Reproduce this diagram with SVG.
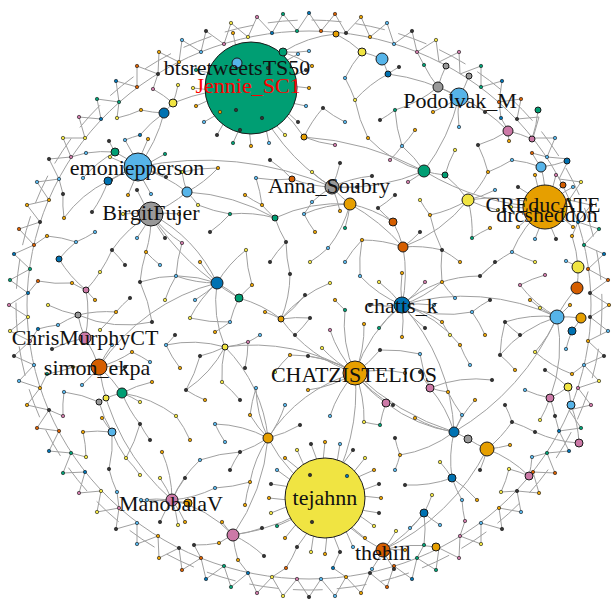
<svg xmlns="http://www.w3.org/2000/svg" width="616" height="601" viewBox="0 0 616 601">
<style>
.e{fill:none;stroke:#a0a0a0;stroke-width:1}
.n{stroke:#1a1a1a;stroke-width:.6}
.N{stroke:#1a1a1a;stroke-width:1}
.o{fill:#E69F00}.k{fill:#56B4E9}.g{fill:#009E73}.y{fill:#F0E442}.b{fill:#0072B2}.v{fill:#D55E00}.p{fill:#CC79A7}.a{fill:#999999}.d{fill:#333333}
.t{font-family:"Liberation Serif","Times New Roman",serif;font-size:22px;fill:#111;text-anchor:middle}
</style>
<rect width="616" height="601" fill="#ffffff"/>
<g id="connectors">
<path class="e" d="M609 305L590 317L608 331L588 341L604 356L584 365L599 381L578 388L591 405L569 410L581 428L559 431L569 451L547 453L555 473L533 472L539 493L517 491L521 512L499 508L502 529L481 523L481 544L460 536L459 558L439 548L436 570L417 558L412 579L394 566L387 587L370 573L361 593L346 577L335 596L321 579L309 597L297 579L283 596L272 577L257 593L248 573L231 587L224 566L206 579L201 558L182 570L179 548L159 558L158 536L137 544L137 523L116 529L119 508L97 512L101 491L79 493L85 472L63 473L71 453L49 451L59 431L37 428L49 410L27 405L40 388L19 381L34 365L14 356L30 341L10 331L28 317L9 305L28 293L10 280L30 269L14 254L34 245L19 229L40 222L27 205L49 200L37 182L59 179L49 159L71 157L63 138L85 138L79 117L101 119L97 99L119 102L116 81L137 87L137 66L158 74L159 52L179 62L182 40L201 52L206 31L224 44L231 23L248 37L257 17L272 33L283 14L297 31L309 13L321 31L335 14L346 33L361 17L370 37L387 23L394 44L412 31L417 52L436 40L439 62L459 52L460 74L481 66L481 87L502 81L499 102L521 99L517 119L539 117L533 138L555 138L547 157L569 159L559 179L581 182L569 200L591 205L578 222L599 229L584 245L604 254L588 269L608 280L590 293Z"/>
<ellipse class="e" cx="309" cy="305" rx="282" ry="274"/>
<ellipse class="e" cx="309" cy="305" rx="293" ry="285" stroke-dasharray="30 14"/>
<path class="e" d="M251 88A200 200 0 0 1 309 88M251 88A200 200 0 0 0 306 106M251 88A200 200 0 0 1 298 122M251 88A200 200 0 0 0 285 135M251 88A200 200 0 0 1 269 143M251 88A200 200 0 0 0 251 146M251 88A200 200 0 0 1 233 143M251 88A200 200 0 0 0 217 135M251 88A200 200 0 0 1 204 122M251 88A200 200 0 0 0 196 106M251 88A200 200 0 0 1 193 88M251 88A200 200 0 0 0 196 70M251 88A200 200 0 0 1 233 33M251 88A200 200 0 0 1 298 54M251 88A200 200 0 0 0 306 70"/>
<path class="e" d="M325 498A200 200 0 0 1 381 498M325 498A200 200 0 0 0 379 513M325 498A200 200 0 0 1 374 526M325 498A200 200 0 0 0 365 538M325 498A200 200 0 0 1 353 547M325 498A200 200 0 0 0 340 552M325 498A200 200 0 0 1 325 554M325 498A200 200 0 0 0 311 552M325 498A200 200 0 0 1 297 547M325 498A200 200 0 0 0 285 538M325 498A200 200 0 0 1 277 526M325 498A200 200 0 0 0 271 513M325 498A200 200 0 0 1 269 498M325 498A200 200 0 0 0 271 484M325 498A200 200 0 0 1 277 470M325 498A200 200 0 0 0 285 458M325 498A200 200 0 0 1 297 450M325 498A200 200 0 0 0 311 444M325 498A200 200 0 0 1 325 442M325 498A200 200 0 0 0 340 444M325 498A200 200 0 0 1 353 450M325 498A200 200 0 0 0 365 458M325 498A200 200 0 0 1 374 470M325 498A200 200 0 0 0 379 484"/>
<path class="e" d="M283 52A120 120 0 0 1 312 66M283 52A120 120 0 0 0 309 51M283 52A120 120 0 0 1 336 34M362 52A120 120 0 0 0 345 78M336 34A120 120 0 0 1 362 52M362 52A120 120 0 0 1 382 59M304 137A120 120 0 0 1 323 108M304 137A120 120 0 0 0 335 145M304 137A150 150 0 0 0 251 88M388 74A120 120 0 0 0 355 100M388 74A120 120 0 0 1 399 67M382 59A120 120 0 0 1 388 74M388 74A200 200 0 0 1 459 97M438 87A120 120 0 0 1 395 110M446 66A120 120 0 0 0 438 87M438 87A120 120 0 0 1 459 97"/>
<path class="e" d="M164 113A120 120 0 0 0 140 135M164 113A120 120 0 0 1 141 110M164 113A150 150 0 0 1 138 167M164 113A120 120 0 0 1 173 103M173 103A120 120 0 0 0 178 85M173 103A200 200 0 0 1 251 88"/>
<path class="e" d="M424 171A120 120 0 0 1 368 138M424 171A120 120 0 0 0 402 146M424 171A120 120 0 0 1 408 182M424 171A120 120 0 0 0 445 175M424 171A200 200 0 0 1 332 187M424 171A200 200 0 0 0 459 97M424 171A250 250 0 0 0 545 207M508 131A120 120 0 0 1 478 145M508 131A120 120 0 0 0 509 141M508 131A120 120 0 0 1 532 139M508 131A150 150 0 0 0 459 97M532 139A120 120 0 0 0 538 110M469 76A120 120 0 0 1 459 97M459 97A120 120 0 0 1 485 112M459 97A120 120 0 0 0 459 127M459 97A120 120 0 0 1 433 112"/>
<path class="e" d="M187 192A120 120 0 0 1 182 172M187 192A120 120 0 0 0 218 168M187 192A120 120 0 0 1 198 205M187 192A150 150 0 0 0 138 167M187 192A150 150 0 0 1 151 214"/>
<path class="e" d="M292 179A120 120 0 0 1 256 178M292 179A120 120 0 0 0 332 187M332 187A120 120 0 0 1 372 176M332 187A120 120 0 0 0 357 187M332 187A120 120 0 0 1 340 211M332 187A120 120 0 0 0 312 202M332 187A120 120 0 0 1 312 172M332 187A120 120 0 0 0 340 163M350 204A120 120 0 0 1 332 187M138 167A320 320 0 0 1 332 187M251 88A200 200 0 0 0 332 187"/>
<path class="e" d="M468 200A120 120 0 0 0 488 172M468 200A120 120 0 0 1 430 215M468 200A120 120 0 0 0 498 210M468 200A120 120 0 0 1 472 238M445 175A120 120 0 0 1 468 200M468 200A150 150 0 0 1 545 207M403 247A150 150 0 0 0 468 200M541 167A120 120 0 0 0 512 160M567 161A120 120 0 0 1 541 167M541 167A120 120 0 0 1 545 207M563 185A120 120 0 0 0 545 207"/>
<path class="e" d="M108 181A120 120 0 0 1 92 212M108 181A120 120 0 0 0 64 218M108 181A120 120 0 0 1 138 167M275 218A120 120 0 0 0 230 214M275 218A120 120 0 0 1 262 205M275 218A120 120 0 0 0 286 242M275 218A150 150 0 0 1 350 204M350 204A120 120 0 0 0 304 214M350 204A120 120 0 0 1 328 248M393 222A120 120 0 0 0 350 204M393 222A120 120 0 0 1 378 208M393 222A120 120 0 0 1 403 247"/>
<path class="e" d="M545 207A120 120 0 0 1 573 227M545 207A120 120 0 0 0 556 239M545 207A120 120 0 0 1 535 239M545 207A120 120 0 0 0 518 227M545 207A120 120 0 0 1 511 207M545 207A120 120 0 0 0 518 187M545 207A120 120 0 0 1 535 175M545 207A120 120 0 0 0 556 175M545 207A120 120 0 0 1 573 187M545 207A120 120 0 0 0 512 252"/>
<path class="e" d="M59 259A120 120 0 0 1 76 242M59 259A120 120 0 0 0 86 290M151 214A120 120 0 0 1 179 214M151 214A120 120 0 0 0 165 238M151 214A120 120 0 0 1 137 238M151 214A120 120 0 0 0 123 214M151 214A120 120 0 0 1 137 190M151 214A120 120 0 0 0 112 250M151 214A120 120 0 0 1 146 252M151 214A120 120 0 0 0 182 243M217 283A150 150 0 0 0 151 214"/>
<path class="e" d="M138 167A120 120 0 0 1 166 177M138 167A120 120 0 0 0 151 194M138 167A120 120 0 0 1 128 195M138 167A120 120 0 0 0 111 180M138 167A120 120 0 0 1 110 157M138 167A120 120 0 0 0 125 140M138 167A120 120 0 0 1 148 139M138 167A120 120 0 0 0 165 154M115 152A120 120 0 0 1 138 167M115 152A120 120 0 0 0 83 178M115 152A120 120 0 0 1 109 141"/>
<path class="e" d="M217 283A120 120 0 0 1 246 250M217 283A120 120 0 0 0 140 282M217 283A120 120 0 0 1 176 276M217 283A120 120 0 0 0 190 318M217 283A120 120 0 0 1 239 298M217 283A120 120 0 0 0 225 347M217 283A200 200 0 0 0 99 367M403 247A120 120 0 0 0 362 240M403 247A120 120 0 0 1 442 250M403 247A150 150 0 0 1 402 305"/>
<path class="e" d="M86 290A120 120 0 0 1 72 283M86 290A120 120 0 0 0 100 272M86 290A120 120 0 0 1 85 338M239 298A120 120 0 0 1 252 285M239 298A120 120 0 0 0 230 322M239 298A120 120 0 0 1 281 319M281 319A120 120 0 0 0 290 274M281 319A120 120 0 0 1 330 283M281 319A120 120 0 0 0 265 312M281 319A120 120 0 0 1 310 318M281 319A150 150 0 0 0 355 373"/>
<path class="e" d="M402 305A120 120 0 0 1 434 305M402 305A120 120 0 0 0 425 328M402 305A120 120 0 0 1 402 337M402 305A120 120 0 0 0 379 328M402 305A120 120 0 0 1 370 305M402 305A120 120 0 0 0 379 282M402 305A120 120 0 0 1 402 273M402 305A120 120 0 0 0 425 282M402 305A120 120 0 0 1 360 276M402 305A120 120 0 0 0 442 282M402 305A120 120 0 0 1 480 276M402 305A120 120 0 0 1 442 322M402 305A120 120 0 0 0 472 312M402 305A120 120 0 0 1 460 345M402 305A150 150 0 0 0 355 373M557 317A220 220 0 0 0 402 305M454 432A200 200 0 0 0 402 305"/>
<path class="e" d="M557 317A120 120 0 0 1 520 285M557 317A120 120 0 0 0 505 322M557 317A120 120 0 0 1 540 308M557 317A120 120 0 0 0 500 355M557 317A120 120 0 0 1 535 352M557 317A120 120 0 0 0 570 305M577 288A120 120 0 0 0 557 317M557 317A120 120 0 0 1 581 318M557 317A150 150 0 0 1 550 398M578 267A120 120 0 0 1 577 288M566 261A120 120 0 0 1 578 267M581 318A120 120 0 0 1 572 331M572 331A120 120 0 0 0 566 349"/>
<path class="e" d="M78 315A120 120 0 0 0 58 325M78 315A120 120 0 0 1 116 312M78 315A120 120 0 0 0 152 322M78 315A120 120 0 0 1 48 305M78 315A120 120 0 0 0 85 338M85 338A120 120 0 0 0 52 349M85 338A120 120 0 0 1 99 367"/>
<path class="e" d="M355 373A120 120 0 0 1 405 373M355 373A120 120 0 0 0 393 405M355 373A120 120 0 0 1 364 422M355 373A120 120 0 0 0 330 416M355 373A120 120 0 0 1 308 390M355 373A120 120 0 0 0 308 356M355 373A120 120 0 0 1 330 330M355 373A120 120 0 0 0 364 324M355 373A120 120 0 0 1 345 310M355 373A120 120 0 0 0 290 355M355 373A120 120 0 0 1 322 348M355 373A120 120 0 0 0 380 350M386 403A120 120 0 0 1 355 373M268 438A150 150 0 0 1 355 373M225 347A200 200 0 0 1 355 373M355 373A200 200 0 0 1 325 498"/>
<path class="e" d="M99 367A120 120 0 0 1 125 367M99 367A120 120 0 0 0 73 367M99 367A120 120 0 0 1 112 345M99 367A120 120 0 0 0 132 352M99 367A120 120 0 0 1 82 385M122 393A120 120 0 0 0 99 367M99 367A220 220 0 0 0 172 500"/>
<path class="e" d="M225 347A120 120 0 0 0 166 345M225 347A120 120 0 0 1 200 356M225 347A120 120 0 0 0 248 342M225 347A120 120 0 0 1 186 390M225 347A120 120 0 0 0 222 382M268 438A150 150 0 0 0 225 347"/>
<path class="e" d="M430 388A120 120 0 0 1 420 354M430 388A120 120 0 0 0 448 392M430 388A120 120 0 0 1 492 380M430 388A120 120 0 0 1 454 432M550 398A120 120 0 0 1 525 390M550 398A120 120 0 0 0 568 387M568 387A120 120 0 0 1 571 405M579 443A120 120 0 0 0 571 405M535 432A120 120 0 0 0 579 443"/>
<path class="e" d="M268 438A120 120 0 0 1 256 388M268 438A120 120 0 0 0 215 424M268 438A120 120 0 0 1 250 415M268 438A120 120 0 0 0 300 425M268 438A120 120 0 0 1 240 452M268 438A120 120 0 0 0 250 482M268 438A150 150 0 0 0 325 498"/>
<path class="e" d="M112 432A120 120 0 0 1 102 418M112 432A120 120 0 0 0 126 458M112 432A120 120 0 0 1 109 469M112 432A120 120 0 0 0 83 432M112 432A120 120 0 0 1 99 402M99 402A120 120 0 0 1 106 398M106 398A120 120 0 0 1 122 393M99 402A120 120 0 0 0 64 392M122 393A120 120 0 0 1 152 382M122 393A120 120 0 0 0 140 424M122 393A120 120 0 0 1 176 416"/>
<path class="e" d="M386 403A120 120 0 0 0 380 425M386 403A150 150 0 0 0 454 432M454 432A120 120 0 0 1 415 418M454 432A120 120 0 0 0 462 415M454 432A120 120 0 0 1 400 455M454 432A120 120 0 0 1 468 439M468 439A120 120 0 0 0 487 449M452 478A120 120 0 0 1 454 432M487 449A120 120 0 0 0 512 422M487 449A120 120 0 0 1 480 470M529 476A120 120 0 0 0 487 449M509 469A120 120 0 0 1 529 476M487 449A220 220 0 0 1 383 550"/>
<path class="e" d="M172 500A120 120 0 0 1 185 522M172 500A120 120 0 0 0 160 522M172 500A120 120 0 0 1 147 500M172 500A120 120 0 0 0 160 478M172 500A120 120 0 0 1 185 478M172 500A120 120 0 0 0 162 452M172 500A120 120 0 0 1 200 460M172 500A120 120 0 0 0 215 488M172 500A120 120 0 0 1 178 525M172 500A120 120 0 0 0 141 500M233 535A120 120 0 0 0 172 500M188 503A120 120 0 0 1 172 500"/>
<path class="e" d="M452 478A120 120 0 0 0 440 462M452 478A120 120 0 0 1 405 485M452 478A120 120 0 0 0 462 500M452 478A120 120 0 0 1 477 500M424 513A120 120 0 0 0 432 495M424 513A120 120 0 0 1 410 528M424 513A120 120 0 0 0 440 525M424 513A150 150 0 0 1 383 550M436 547A120 120 0 0 0 383 550"/>
<path class="e" d="M233 535A120 120 0 0 1 222 522M233 535A120 120 0 0 0 262 528M233 535A120 120 0 0 1 264 556M233 535A120 120 0 0 0 219 543M233 535A200 200 0 0 0 325 498M383 550A120 120 0 0 1 405 550M383 550A120 120 0 0 0 394 569M383 550A120 120 0 0 1 372 569M383 550A120 120 0 0 0 396 531M325 498A150 150 0 0 0 383 550"/>
<path class="e" d="M345 122A120 120 0 0 1 323 108M380 120A120 120 0 0 0 395 110M415 130A120 120 0 0 1 402 146M455 150A120 120 0 0 0 445 175M270 160A120 120 0 0 1 292 179M390 160A120 120 0 0 0 402 146M495 190A120 120 0 0 1 468 200M245 195A120 120 0 0 0 262 205M395 195A120 120 0 0 1 378 208M420 200A120 120 0 0 0 430 215M95 232A120 120 0 0 1 76 242M210 232A120 120 0 0 0 230 214M315 232A120 120 0 0 1 304 214M345 228A120 120 0 0 0 350 204M420 232A120 120 0 0 1 403 247M490 228A120 120 0 0 0 472 238M535 262A120 120 0 0 1 512 252M125 265A120 120 0 0 0 112 250M160 265A120 120 0 0 1 146 252M200 262A120 120 0 0 0 217 283M270 262A120 120 0 0 1 286 242M310 262A120 120 0 0 0 328 248M345 262A120 120 0 0 1 362 240M460 262A120 120 0 0 0 442 250M495 262A120 120 0 0 1 480 276M545 275A120 120 0 0 0 520 285"/>
<path class="e" d="M95 300A120 120 0 0 1 86 290M130 298A120 120 0 0 0 116 312M165 300A120 120 0 0 1 176 276M195 300A120 120 0 0 0 217 283M305 295A120 120 0 0 1 281 319M335 300A120 120 0 0 0 345 310M455 298A120 120 0 0 1 442 282M490 300A120 120 0 0 0 472 312M530 300A120 120 0 0 1 540 308M100 330A120 120 0 0 0 116 312M175 335A120 120 0 0 1 166 345M215 332A120 120 0 0 0 230 322M260 335A120 120 0 0 1 248 342M295 335A120 120 0 0 0 310 318M450 335A120 120 0 0 1 442 322M485 335A120 120 0 0 0 472 312M520 335A120 120 0 0 1 505 322M150 362A120 120 0 0 0 132 352M180 368A120 120 0 0 1 166 345M245 368A120 120 0 0 0 248 342M275 372A120 120 0 0 1 290 355M420 372A120 120 0 0 0 430 388M470 365A120 120 0 0 1 460 345M515 370A120 120 0 0 0 500 355M545 370A120 120 0 0 1 568 387"/>
<path class="e" d="M140 402A120 120 0 0 0 122 393M205 400A120 120 0 0 1 186 390M240 400A120 120 0 0 0 222 382M285 405A120 120 0 0 1 268 438M475 400A120 120 0 0 0 454 432M505 405A120 120 0 0 1 512 422M540 420A120 120 0 0 0 550 398M150 440A120 120 0 0 1 140 424M190 440A120 120 0 0 0 176 416M225 442A120 120 0 0 1 215 424M395 438A120 120 0 0 0 400 455M510 445A120 120 0 0 1 487 449M140 475A120 120 0 0 0 126 458M230 470A120 120 0 0 1 240 452M395 470A120 120 0 0 0 400 455M245 505A120 120 0 0 1 250 482"/>
<path class="e" d="M572 374L584 365M572 374A120 120 0 0 1 535 352M555 416L559 431M555 416A120 120 0 0 0 550 398M532 457L547 453M532 457A120 120 0 0 1 529 476M501 492L517 491M501 492A120 120 0 0 0 509 469M465 521L460 536M465 521A120 120 0 0 1 462 500M424 545L417 558M424 545A120 120 0 0 0 424 513M333 568L346 577M333 568A120 120 0 0 1 340 552M286 568L272 577M286 568A120 120 0 0 0 297 547M238 560L248 573M238 560A120 120 0 0 1 233 535M194 545L201 558M194 545A120 120 0 0 0 219 543M117 492L119 508M117 492A120 120 0 0 1 109 469M86 457L71 453M86 457A120 120 0 0 0 83 432M63 416L49 410M63 416A120 120 0 0 1 64 392M47 374L40 388M47 374A120 120 0 0 0 73 367M38 329L30 341M38 329A120 120 0 0 1 58 325M38 281L28 293M38 281A120 120 0 0 0 72 283M47 236L34 245M47 236A120 120 0 0 1 76 242M63 194L59 179M63 194A120 120 0 0 0 64 218M86 153L71 157M86 153A120 120 0 0 1 115 152M117 118L119 102M117 118A120 120 0 0 0 141 110M153 89L158 74M153 89A120 120 0 0 1 173 103M424 65L417 52M424 65A120 120 0 0 0 438 87M501 118L499 102M501 118A120 120 0 0 1 508 131M532 153L547 157M532 153A120 120 0 0 0 541 167M572 236L578 222M572 236A120 120 0 0 1 578 267"/>
<path class="e" d="M256 178A150 150 0 0 1 262 205M246 250A150 150 0 0 0 252 285M290 274A150 150 0 0 1 286 242M304 214A150 150 0 0 0 312 202M140 282A150 150 0 0 1 152 322M190 318A150 150 0 0 0 230 322M200 356A150 150 0 0 1 186 390M256 388A150 150 0 0 0 250 415M380 425A150 150 0 0 1 364 422M448 392A150 150 0 0 0 462 415M512 422A150 150 0 0 1 535 432M488 172A150 150 0 0 0 512 160M478 145A150 150 0 0 1 488 172M442 250A150 150 0 0 0 442 282M480 276A150 150 0 0 1 512 252M505 322A150 150 0 0 0 500 355M380 350A150 150 0 0 1 420 354M430 215A150 150 0 0 0 442 250M200 460A150 150 0 0 1 240 452M215 488A150 150 0 0 0 250 482M140 424A150 150 0 0 1 126 458M140 135A150 150 0 0 0 125 140M182 172A150 150 0 0 1 218 168M355 100A150 150 0 0 0 368 138M345 78A150 150 0 0 1 355 100M395 110A150 150 0 0 0 402 146M112 250A150 150 0 0 1 100 272M146 252A150 150 0 0 0 140 282M176 276A150 150 0 0 1 182 243M198 205A150 150 0 0 0 230 214"/>
<path class="e" d="M151 214A250 250 0 0 0 239 298M350 204A200 200 0 0 1 403 247M268 438A200 200 0 0 1 233 535M187 192A200 200 0 0 1 275 218M304 137A300 300 0 0 1 424 171M362 240A150 150 0 0 0 360 276M355 373A250 250 0 0 0 454 432M557 317A250 250 0 0 1 454 432"/>
</g>
<g id="Jennie_SC1"><circle class="N g" cx="251" cy="88" r="46"/><text class="t" x="248" y="93" style="fill:#ff0000">Jennie_SC1</text></g>
<g id="tejahnn"><circle class="N y" cx="325" cy="498" r="40"/><text class="t" x="325" y="505">tejahnn</text></g>
<g id="ring">
<g id="o0"><circle class="n o" cx="609" cy="305" r="1.7"/></g>
<g id="o1"><circle class="n k" cx="608" cy="331" r="1.7"/></g>
<g id="o2"><circle class="n d" cx="604" cy="356" r="1.7"/></g>
<g id="o3"><circle class="n y" cx="599" cy="381" r="1.7"/></g>
<g id="o4"><circle class="n p" cx="591" cy="405" r="1.7"/></g>
<g id="o5"><circle class="n g" cx="581" cy="428" r="1.7"/></g>
<g id="o6"><circle class="n b" cx="569" cy="451" r="1.7"/></g>
<g id="o7"><circle class="n v" cx="555" cy="473" r="1.7"/></g>
<g id="o8"><circle class="n o" cx="539" cy="493" r="1.7"/></g>
<g id="o9"><circle class="n k" cx="521" cy="512" r="1.7"/></g>
<g id="o10"><circle class="n d" cx="502" cy="529" r="1.7"/></g>
<g id="o11"><circle class="n y" cx="481" cy="544" r="1.7"/></g>
<g id="o12"><circle class="n p" cx="459" cy="558" r="1.7"/></g>
<g id="o13"><circle class="n g" cx="436" cy="570" r="1.7"/></g>
<g id="o14"><circle class="n b" cx="412" cy="579" r="1.7"/></g>
<g id="o15"><circle class="n v" cx="387" cy="587" r="1.7"/></g>
<g id="o16"><circle class="n o" cx="361" cy="593" r="1.7"/></g>
<g id="o17"><circle class="n k" cx="335" cy="596" r="1.7"/></g>
<g id="o18"><circle class="n d" cx="309" cy="597" r="1.7"/></g>
<g id="o19"><circle class="n y" cx="283" cy="596" r="1.7"/></g>
<g id="o20"><circle class="n p" cx="257" cy="593" r="1.7"/></g>
<g id="o21"><circle class="n g" cx="231" cy="587" r="1.7"/></g>
<g id="o22"><circle class="n b" cx="206" cy="579" r="1.7"/></g>
<g id="o23"><circle class="n v" cx="182" cy="570" r="1.7"/></g>
<g id="o24"><circle class="n o" cx="159" cy="558" r="1.7"/></g>
<g id="o25"><circle class="n k" cx="137" cy="544" r="1.7"/></g>
<g id="o26"><circle class="n d" cx="116" cy="529" r="1.7"/></g>
<g id="o27"><circle class="n y" cx="97" cy="512" r="1.7"/></g>
<g id="o28"><circle class="n p" cx="79" cy="493" r="1.7"/></g>
<g id="o29"><circle class="n g" cx="63" cy="473" r="1.7"/></g>
<g id="o30"><circle class="n b" cx="49" cy="451" r="1.7"/></g>
<g id="o31"><circle class="n v" cx="37" cy="428" r="1.7"/></g>
<g id="o32"><circle class="n o" cx="27" cy="405" r="1.7"/></g>
<g id="o33"><circle class="n k" cx="19" cy="381" r="1.7"/></g>
<g id="o34"><circle class="n d" cx="14" cy="356" r="1.7"/></g>
<g id="o35"><circle class="n y" cx="10" cy="331" r="1.7"/></g>
<g id="o36"><circle class="n p" cx="9" cy="305" r="1.7"/></g>
<g id="o37"><circle class="n g" cx="10" cy="280" r="1.7"/></g>
<g id="o38"><circle class="n b" cx="14" cy="254" r="1.7"/></g>
<g id="o39"><circle class="n v" cx="19" cy="229" r="1.7"/></g>
<g id="o40"><circle class="n o" cx="27" cy="205" r="1.7"/></g>
<g id="o41"><circle class="n k" cx="37" cy="182" r="1.7"/></g>
<g id="o42"><circle class="n d" cx="49" cy="159" r="1.7"/></g>
<g id="o43"><circle class="n y" cx="63" cy="138" r="1.7"/></g>
<g id="o44"><circle class="n p" cx="79" cy="117" r="1.7"/></g>
<g id="o45"><circle class="n g" cx="97" cy="99" r="1.7"/></g>
<g id="o46"><circle class="n b" cx="116" cy="81" r="1.7"/></g>
<g id="o47"><circle class="n v" cx="137" cy="66" r="1.7"/></g>
<g id="o48"><circle class="n o" cx="159" cy="52" r="1.7"/></g>
<g id="o49"><circle class="n k" cx="182" cy="40" r="1.7"/></g>
<g id="o50"><circle class="n d" cx="206" cy="31" r="1.7"/></g>
<g id="o51"><circle class="n y" cx="231" cy="23" r="1.7"/></g>
<g id="o52"><circle class="n p" cx="257" cy="17" r="1.7"/></g>
<g id="o53"><circle class="n g" cx="283" cy="14" r="1.7"/></g>
<g id="o54"><circle class="n b" cx="309" cy="13" r="1.7"/></g>
<g id="o55"><circle class="n v" cx="335" cy="14" r="1.7"/></g>
<g id="o56"><circle class="n o" cx="361" cy="17" r="1.7"/></g>
<g id="o57"><circle class="n k" cx="387" cy="23" r="1.7"/></g>
<g id="o58"><circle class="n d" cx="412" cy="31" r="1.7"/></g>
<g id="o59"><circle class="n y" cx="436" cy="40" r="1.7"/></g>
<g id="o60"><circle class="n p" cx="459" cy="52" r="1.7"/></g>
<g id="o61"><circle class="n g" cx="481" cy="66" r="1.7"/></g>
<g id="o62"><circle class="n b" cx="502" cy="81" r="1.7"/></g>
<g id="o63"><circle class="n v" cx="521" cy="99" r="1.7"/></g>
<g id="o65"><circle class="n k" cx="555" cy="138" r="1.7"/></g>
<g id="o67"><circle class="n y" cx="581" cy="182" r="1.7"/></g>
<g id="o68"><circle class="n p" cx="591" cy="205" r="1.7"/></g>
<g id="o69"><circle class="n g" cx="599" cy="229" r="1.7"/></g>
<g id="o70"><circle class="n b" cx="604" cy="254" r="1.7"/></g>
<g id="o71"><circle class="n v" cx="608" cy="280" r="1.7"/></g>
<g id="i0"><circle class="n d" cx="590" cy="317" r="1.7"/></g>
<g id="i1"><circle class="n o" cx="588" cy="341" r="1.7"/></g>
<g id="i2"><circle class="n k" cx="584" cy="365" r="1.7"/></g>
<g id="i3"><circle class="n p" cx="578" cy="388" r="1.7"/></g>
<g id="i5"><circle class="n b" cx="559" cy="431" r="1.7"/></g>
<g id="i6"><circle class="n g" cx="547" cy="453" r="1.7"/></g>
<g id="i7"><circle class="n v" cx="533" cy="472" r="1.7"/></g>
<g id="i8"><circle class="n d" cx="517" cy="491" r="1.7"/></g>
<g id="i9"><circle class="n o" cx="499" cy="508" r="1.7"/></g>
<g id="i10"><circle class="n k" cx="481" cy="523" r="1.7"/></g>
<g id="i11"><circle class="n p" cx="460" cy="536" r="1.7"/></g>
<g id="i13"><circle class="n g" cx="417" cy="558" r="1.7"/></g>
<g id="i14"><circle class="n v" cx="394" cy="566" r="1.7"/></g>
<g id="i15"><circle class="n d" cx="370" cy="573" r="1.7"/></g>
<g id="i16"><circle class="n o" cx="346" cy="577" r="1.7"/></g>
<g id="i17"><circle class="n k" cx="321" cy="579" r="1.7"/></g>
<g id="i18"><circle class="n p" cx="297" cy="579" r="1.7"/></g>
<g id="i19"><circle class="n y" cx="272" cy="577" r="1.7"/></g>
<g id="i20"><circle class="n b" cx="248" cy="573" r="1.7"/></g>
<g id="i21"><circle class="n g" cx="224" cy="566" r="1.7"/></g>
<g id="i22"><circle class="n v" cx="201" cy="558" r="1.7"/></g>
<g id="i23"><circle class="n d" cx="179" cy="548" r="1.7"/></g>
<g id="i24"><circle class="n o" cx="158" cy="536" r="1.7"/></g>
<g id="i25"><circle class="n k" cx="137" cy="523" r="1.7"/></g>
<g id="i26"><circle class="n p" cx="119" cy="508" r="1.7"/></g>
<g id="i27"><circle class="n y" cx="101" cy="491" r="1.7"/></g>
<g id="i28"><circle class="n b" cx="85" cy="472" r="1.7"/></g>
<g id="i29"><circle class="n g" cx="71" cy="453" r="1.7"/></g>
<g id="i30"><circle class="n v" cx="59" cy="431" r="1.7"/></g>
<g id="i31"><circle class="n d" cx="49" cy="410" r="1.7"/></g>
<g id="i32"><circle class="n o" cx="40" cy="388" r="1.7"/></g>
<g id="i33"><circle class="n k" cx="34" cy="365" r="1.7"/></g>
<g id="i34"><circle class="n p" cx="30" cy="341" r="1.7"/></g>
<g id="i35"><circle class="n y" cx="28" cy="317" r="1.7"/></g>
<g id="i36"><circle class="n b" cx="28" cy="293" r="1.7"/></g>
<g id="i37"><circle class="n g" cx="30" cy="269" r="1.7"/></g>
<g id="i38"><circle class="n v" cx="34" cy="245" r="1.7"/></g>
<g id="i39"><circle class="n d" cx="40" cy="222" r="1.7"/></g>
<g id="i40"><circle class="n o" cx="49" cy="200" r="1.7"/></g>
<g id="i41"><circle class="n k" cx="59" cy="179" r="1.7"/></g>
<g id="i42"><circle class="n p" cx="71" cy="157" r="1.7"/></g>
<g id="i43"><circle class="n y" cx="85" cy="138" r="1.7"/></g>
<g id="i44"><circle class="n b" cx="101" cy="119" r="1.7"/></g>
<g id="i45"><circle class="n g" cx="119" cy="102" r="1.7"/></g>
<g id="i46"><circle class="n v" cx="137" cy="87" r="1.7"/></g>
<g id="i47"><circle class="n d" cx="158" cy="74" r="1.7"/></g>
<g id="i48"><circle class="n o" cx="179" cy="62" r="1.7"/></g>
<g id="i49"><circle class="n k" cx="201" cy="52" r="1.7"/></g>
<g id="i50"><circle class="n p" cx="224" cy="44" r="1.7"/></g>
<g id="i51"><circle class="n y" cx="248" cy="37" r="1.7"/></g>
<g id="i52"><circle class="n b" cx="272" cy="33" r="1.7"/></g>
<g id="i53"><circle class="n g" cx="297" cy="31" r="1.7"/></g>
<g id="i54"><circle class="n v" cx="321" cy="31" r="1.7"/></g>
<g id="i55"><circle class="n d" cx="346" cy="33" r="1.7"/></g>
<g id="i56"><circle class="n o" cx="370" cy="37" r="1.7"/></g>
<g id="i57"><circle class="n k" cx="394" cy="44" r="1.7"/></g>
<g id="i58"><circle class="n p" cx="417" cy="52" r="1.7"/></g>
<g id="i61"><circle class="n g" cx="481" cy="87" r="1.7"/></g>
<g id="i62"><circle class="n v" cx="499" cy="102" r="1.7"/></g>
<g id="i63"><circle class="n d" cx="517" cy="119" r="1.7"/></g>
<g id="i65"><circle class="n k" cx="547" cy="157" r="1.7"/></g>
<g id="i67"><circle class="n y" cx="569" cy="200" r="1.7"/></g>
<g id="i68"><circle class="n b" cx="578" cy="222" r="1.7"/></g>
<g id="i69"><circle class="n g" cx="584" cy="245" r="1.7"/></g>
<g id="i70"><circle class="n v" cx="588" cy="269" r="1.7"/></g>
<g id="i71"><circle class="n d" cx="590" cy="293" r="1.7"/></g>
<g id="w15"><circle class="n o" cx="572" cy="374" r="1.7"/></g>
<g id="w25"><circle class="n d" cx="555" cy="416" r="1.7"/></g>
<g id="w35"><circle class="n k" cx="532" cy="457" r="1.7"/></g>
<g id="w45"><circle class="n y" cx="501" cy="492" r="1.7"/></g>
<g id="w55"><circle class="n p" cx="465" cy="521" r="1.7"/></g>
<g id="w65"><circle class="n g" cx="424" cy="545" r="1.7"/></g>
<g id="w85"><circle class="n b" cx="333" cy="568" r="1.7"/></g>
<g id="w95"><circle class="n v" cx="286" cy="568" r="1.7"/></g>
<g id="w105"><circle class="n o" cx="238" cy="560" r="1.7"/></g>
<g id="w115"><circle class="n d" cx="194" cy="545" r="1.7"/></g>
<g id="w135"><circle class="n k" cx="117" cy="492" r="1.7"/></g>
<g id="w145"><circle class="n y" cx="86" cy="457" r="1.7"/></g>
<g id="w155"><circle class="n p" cx="63" cy="416" r="1.7"/></g>
<g id="w165"><circle class="n g" cx="47" cy="374" r="1.7"/></g>
<g id="w175"><circle class="n b" cx="38" cy="329" r="1.7"/></g>
<g id="w185"><circle class="n v" cx="38" cy="281" r="1.7"/></g>
<g id="w195"><circle class="n o" cx="47" cy="236" r="1.7"/></g>
<g id="w205"><circle class="n d" cx="63" cy="194" r="1.7"/></g>
<g id="w215"><circle class="n k" cx="86" cy="153" r="1.7"/></g>
<g id="w225"><circle class="n y" cx="117" cy="118" r="1.7"/></g>
<g id="w235"><circle class="n p" cx="153" cy="89" r="1.7"/></g>
<g id="w295"><circle class="n g" cx="424" cy="65" r="1.7"/></g>
<g id="w315"><circle class="n b" cx="501" cy="118" r="1.7"/></g>
<g id="w325"><circle class="n v" cx="532" cy="153" r="1.7"/></g>
<g id="w345"><circle class="n o" cx="572" cy="236" r="1.7"/></g>
</g>
<g id="small">
<g id="j0"><circle class="n o" cx="309" cy="88" r="1.7"/></g>
<g id="j1"><circle class="n k" cx="306" cy="106" r="1.7"/></g>
<g id="j2"><circle class="n d" cx="298" cy="122" r="1.7"/></g>
<g id="j3"><circle class="n y" cx="285" cy="135" r="1.7"/></g>
<g id="j4"><circle class="n k" cx="269" cy="143" r="1.7"/></g>
<g id="j5"><circle class="n o" cx="251" cy="146" r="1.7"/></g>
<g id="j6"><circle class="n g" cx="233" cy="143" r="1.7"/></g>
<g id="j7"><circle class="n d" cx="217" cy="135" r="1.7"/></g>
<g id="j8"><circle class="n k" cx="204" cy="122" r="1.7"/></g>
<g id="j9"><circle class="n o" cx="196" cy="106" r="1.7"/></g>
<g id="j10"><circle class="n y" cx="193" cy="88" r="1.7"/></g>
<g id="j11"><circle class="n g" cx="196" cy="70" r="1.7"/></g>
<g id="j14"><circle class="n o" cx="233" cy="33" r="1.7"/></g>
<g id="j18"><circle class="n k" cx="298" cy="54" r="1.7"/></g>
<g id="j19"><circle class="n d" cx="306" cy="70" r="1.7"/></g>
<g id="ji1"><circle class="n d" cx="236" cy="110" r="1.7"/></g>
<g id="ji2"><circle class="n d" cx="268" cy="68" r="1.7"/></g>
<g id="ji3"><circle class="n d" cx="240" cy="130" r="1.7"/></g>
<g id="ji4"><circle class="n d" cx="262" cy="118" r="1.7"/></g>
<g id="ji5"><circle class="n o" cx="220" cy="112" r="1.7"/></g>
<g id="t0"><circle class="n o" cx="381" cy="498" r="1.7"/></g>
<g id="t1"><circle class="n d" cx="379" cy="513" r="1.7"/></g>
<g id="t2"><circle class="n y" cx="374" cy="526" r="1.7"/></g>
<g id="t3"><circle class="n o" cx="365" cy="538" r="1.7"/></g>
<g id="t4"><circle class="n k" cx="353" cy="547" r="1.7"/></g>
<g id="t5"><circle class="n d" cx="340" cy="552" r="1.7"/></g>
<g id="t6"><circle class="n o" cx="325" cy="554" r="1.7"/></g>
<g id="t7"><circle class="n y" cx="311" cy="552" r="1.7"/></g>
<g id="t8"><circle class="n d" cx="297" cy="547" r="1.7"/></g>
<g id="t9"><circle class="n o" cx="285" cy="538" r="1.7"/></g>
<g id="t10"><circle class="n g" cx="277" cy="526" r="1.7"/></g>
<g id="t11"><circle class="n y" cx="271" cy="513" r="1.7"/></g>
<g id="t12"><circle class="n o" cx="269" cy="498" r="1.7"/></g>
<g id="t13"><circle class="n d" cx="271" cy="484" r="1.7"/></g>
<g id="t14"><circle class="n k" cx="277" cy="470" r="1.7"/></g>
<g id="t15"><circle class="n o" cx="285" cy="458" r="1.7"/></g>
<g id="t16"><circle class="n y" cx="297" cy="450" r="1.7"/></g>
<g id="t17"><circle class="n d" cx="311" cy="444" r="1.7"/></g>
<g id="t18"><circle class="n o" cx="325" cy="442" r="1.7"/></g>
<g id="t19"><circle class="n k" cx="340" cy="444" r="1.7"/></g>
<g id="t20"><circle class="n d" cx="353" cy="450" r="1.7"/></g>
<g id="t21"><circle class="n y" cx="365" cy="458" r="1.7"/></g>
<g id="t22"><circle class="n o" cx="374" cy="470" r="1.7"/></g>
<g id="t23"><circle class="n d" cx="379" cy="484" r="1.7"/></g>
<g id="ti1"><circle class="n d" cx="310" cy="475" r="1.7"/></g>
<g id="ti2"><circle class="n b" cx="347" cy="476" r="1.7"/></g>
<g id="ti3"><circle class="n d" cx="312" cy="522" r="1.7"/></g>
<g id="c1"><circle class="n o" cx="573" cy="227" r="1.7"/></g>
<g id="c2"><circle class="n d" cx="556" cy="239" r="1.7"/></g>
<g id="c3"><circle class="n k" cx="535" cy="239" r="1.7"/></g>
<g id="c4"><circle class="n o" cx="518" cy="227" r="1.7"/></g>
<g id="c5"><circle class="n y" cx="511" cy="207" r="1.7"/></g>
<g id="c6"><circle class="n d" cx="518" cy="187" r="1.7"/></g>
<g id="c7"><circle class="n o" cx="535" cy="175" r="1.7"/></g>
<g id="c8"><circle class="n p" cx="556" cy="175" r="1.7"/></g>
<g id="c9"><circle class="n k" cx="573" cy="187" r="1.7"/></g>
<g id="e0"><circle class="n d" cx="166" cy="177" r="1.7"/></g>
<g id="e1"><circle class="n k" cx="151" cy="194" r="1.7"/></g>
<g id="e2"><circle class="n o" cx="128" cy="195" r="1.7"/></g>
<g id="e3"><circle class="n d" cx="111" cy="180" r="1.7"/></g>
<g id="e4"><circle class="n y" cx="110" cy="157" r="1.7"/></g>
<g id="e5"><circle class="n k" cx="125" cy="140" r="1.7"/></g>
<g id="e6"><circle class="n o" cx="148" cy="139" r="1.7"/></g>
<g id="e7"><circle class="n g" cx="165" cy="154" r="1.7"/></g>
<g id="b0"><circle class="n o" cx="179" cy="214" r="1.7"/></g>
<g id="b1"><circle class="n d" cx="165" cy="238" r="1.7"/></g>
<g id="b2"><circle class="n k" cx="137" cy="238" r="1.7"/></g>
<g id="b3"><circle class="n y" cx="123" cy="214" r="1.7"/></g>
<g id="b4"><circle class="n d" cx="137" cy="190" r="1.7"/></g>
<g id="z0"><circle class="n o" cx="405" cy="373" r="1.7"/></g>
<g id="z1"><circle class="n d" cx="393" cy="405" r="1.7"/></g>
<g id="z2"><circle class="n y" cx="364" cy="422" r="1.7"/></g>
<g id="z3"><circle class="n k" cx="330" cy="416" r="1.7"/></g>
<g id="z4"><circle class="n o" cx="308" cy="390" r="1.7"/></g>
<g id="z5"><circle class="n d" cx="308" cy="356" r="1.7"/></g>
<g id="z6"><circle class="n p" cx="330" cy="330" r="1.7"/></g>
<g id="z7"><circle class="n o" cx="364" cy="324" r="1.7"/></g>
<g id="k0"><circle class="n k" cx="434" cy="305" r="1.7"/></g>
<g id="k1"><circle class="n d" cx="425" cy="328" r="1.7"/></g>
<g id="k2"><circle class="n o" cx="402" cy="337" r="1.7"/></g>
<g id="k3"><circle class="n g" cx="379" cy="328" r="1.7"/></g>
<g id="k4"><circle class="n d" cx="370" cy="305" r="1.7"/></g>
<g id="k5"><circle class="n y" cx="379" cy="282" r="1.7"/></g>
<g id="k6"><circle class="n o" cx="402" cy="273" r="1.7"/></g>
<g id="k7"><circle class="n p" cx="425" cy="282" r="1.7"/></g>
<g id="pd0"><circle class="n d" cx="485" cy="112" r="1.7"/></g>
<g id="pd1"><circle class="n k" cx="459" cy="127" r="1.7"/></g>
<g id="pd2"><circle class="n o" cx="433" cy="112" r="1.7"/></g>
<g id="s0"><circle class="n d" cx="125" cy="367" r="1.7"/></g>
<g id="s1"><circle class="n o" cx="73" cy="367" r="1.7"/></g>
<g id="s2"><circle class="n k" cx="112" cy="345" r="1.7"/></g>
<g id="a0"><circle class="n d" cx="357" cy="187" r="1.7"/></g>
<g id="a1"><circle class="n o" cx="340" cy="211" r="1.7"/></g>
<g id="a2"><circle class="n k" cx="312" cy="202" r="1.7"/></g>
<g id="a3"><circle class="n y" cx="312" cy="172" r="1.7"/></g>
<g id="a4"><circle class="n d" cx="340" cy="163" r="1.7"/></g>
<g id="mb0"><circle class="n o" cx="185" cy="522" r="1.7"/></g>
<g id="mb1"><circle class="n d" cx="160" cy="522" r="1.7"/></g>
<g id="mb2"><circle class="n k" cx="147" cy="500" r="1.7"/></g>
<g id="mb3"><circle class="n y" cx="160" cy="478" r="1.7"/></g>
<g id="mb4"><circle class="n d" cx="185" cy="478" r="1.7"/></g>
<g id="h0"><circle class="n o" cx="405" cy="550" r="1.7"/></g>
<g id="h1"><circle class="n d" cx="394" cy="569" r="1.7"/></g>
<g id="h2"><circle class="n k" cx="372" cy="569" r="1.7"/></g>
<g id="h3"><circle class="n y" cx="396" cy="531" r="1.7"/></g>
<g id="x1"><circle class="n o" cx="312" cy="66" r="1.7"/></g>
<g id="x2"><circle class="n k" cx="345" cy="78" r="1.7"/></g>
<g id="x3"><circle class="n d" cx="323" cy="108" r="1.7"/></g>
<g id="x4"><circle class="n y" cx="355" cy="100" r="1.7"/></g>
<g id="x5"><circle class="n g" cx="395" cy="110" r="1.7"/></g>
<g id="x6"><circle class="n b" cx="140" cy="135" r="1.7"/></g>
<g id="x7"><circle class="n p" cx="335" cy="145" r="1.7"/></g>
<g id="x8"><circle class="n o" cx="368" cy="138" r="1.7"/></g>
<g id="x9"><circle class="n k" cx="402" cy="146" r="1.7"/></g>
<g id="x10"><circle class="n d" cx="478" cy="145" r="1.7"/></g>
<g id="x11"><circle class="n y" cx="182" cy="172" r="1.7"/></g>
<g id="x12"><circle class="n o" cx="218" cy="168" r="1.7"/></g>
<g id="x13"><circle class="n k" cx="256" cy="178" r="1.7"/></g>
<g id="x14"><circle class="n d" cx="372" cy="176" r="1.7"/></g>
<g id="x15"><circle class="n p" cx="408" cy="182" r="1.7"/></g>
<g id="x16"><circle class="n o" cx="488" cy="172" r="1.7"/></g>
<g id="x17"><circle class="n k" cx="512" cy="160" r="1.7"/></g>
<g id="x18"><circle class="n d" cx="92" cy="212" r="1.7"/></g>
<g id="x19"><circle class="n y" cx="198" cy="205" r="1.7"/></g>
<g id="x20"><circle class="n g" cx="230" cy="214" r="1.7"/></g>
<g id="x21"><circle class="n o" cx="262" cy="205" r="1.7"/></g>
<g id="x22"><circle class="n k" cx="304" cy="214" r="1.7"/></g>
<g id="x23"><circle class="n d" cx="378" cy="208" r="1.7"/></g>
<g id="x24"><circle class="n o" cx="430" cy="215" r="1.7"/></g>
<g id="x25"><circle class="n y" cx="498" cy="210" r="1.7"/></g>
<g id="x26"><circle class="n k" cx="76" cy="242" r="1.7"/></g>
<g id="x27"><circle class="n d" cx="112" cy="250" r="1.7"/></g>
<g id="x28"><circle class="n o" cx="146" cy="252" r="1.7"/></g>
<g id="x29"><circle class="n p" cx="182" cy="243" r="1.7"/></g>
<g id="x30"><circle class="n y" cx="246" cy="250" r="1.7"/></g>
<g id="x31"><circle class="n d" cx="286" cy="242" r="1.7"/></g>
<g id="x32"><circle class="n k" cx="328" cy="248" r="1.7"/></g>
<g id="x33"><circle class="n o" cx="362" cy="240" r="1.7"/></g>
<g id="x34"><circle class="n d" cx="442" cy="250" r="1.7"/></g>
<g id="x35"><circle class="n g" cx="472" cy="238" r="1.7"/></g>
<g id="x36"><circle class="n k" cx="512" cy="252" r="1.7"/></g>
<g id="x37"><circle class="n o" cx="72" cy="283" r="1.7"/></g>
<g id="x38"><circle class="n y" cx="100" cy="272" r="1.7"/></g>
<g id="x39"><circle class="n d" cx="140" cy="282" r="1.7"/></g>
<g id="x40"><circle class="n k" cx="176" cy="276" r="1.7"/></g>
<g id="x41"><circle class="n o" cx="252" cy="285" r="1.7"/></g>
<g id="x42"><circle class="n d" cx="290" cy="274" r="1.7"/></g>
<g id="x43"><circle class="n y" cx="330" cy="283" r="1.7"/></g>
<g id="x44"><circle class="n k" cx="360" cy="276" r="1.7"/></g>
<g id="x45"><circle class="n o" cx="442" cy="282" r="1.7"/></g>
<g id="x46"><circle class="n d" cx="480" cy="276" r="1.7"/></g>
<g id="x47"><circle class="n p" cx="520" cy="285" r="1.7"/></g>
<g id="x48"><circle class="n k" cx="58" cy="325" r="1.7"/></g>
<g id="x49"><circle class="n o" cx="116" cy="312" r="1.7"/></g>
<g id="x50"><circle class="n d" cx="152" cy="322" r="1.7"/></g>
<g id="x51"><circle class="n y" cx="190" cy="318" r="1.7"/></g>
<g id="x52"><circle class="n k" cx="230" cy="322" r="1.7"/></g>
<g id="x53"><circle class="n o" cx="265" cy="312" r="1.7"/></g>
<g id="x54"><circle class="n d" cx="310" cy="318" r="1.7"/></g>
<g id="x55"><circle class="n g" cx="345" cy="310" r="1.7"/></g>
<g id="x56"><circle class="n o" cx="442" cy="322" r="1.7"/></g>
<g id="x57"><circle class="n k" cx="472" cy="312" r="1.7"/></g>
<g id="x58"><circle class="n d" cx="505" cy="322" r="1.7"/></g>
<g id="x59"><circle class="n y" cx="540" cy="308" r="1.7"/></g>
<g id="x60"><circle class="n o" cx="132" cy="352" r="1.7"/></g>
<g id="x61"><circle class="n k" cx="166" cy="345" r="1.7"/></g>
<g id="x62"><circle class="n d" cx="200" cy="356" r="1.7"/></g>
<g id="x63"><circle class="n p" cx="248" cy="342" r="1.7"/></g>
<g id="x64"><circle class="n o" cx="290" cy="355" r="1.7"/></g>
<g id="x65"><circle class="n y" cx="322" cy="348" r="1.7"/></g>
<g id="x66"><circle class="n d" cx="380" cy="350" r="1.7"/></g>
<g id="x67"><circle class="n k" cx="420" cy="354" r="1.7"/></g>
<g id="x68"><circle class="n o" cx="460" cy="345" r="1.7"/></g>
<g id="x69"><circle class="n d" cx="500" cy="355" r="1.7"/></g>
<g id="x70"><circle class="n y" cx="535" cy="352" r="1.7"/></g>
<g id="x71"><circle class="n k" cx="82" cy="385" r="1.7"/></g>
<g id="x72"><circle class="n o" cx="152" cy="382" r="1.7"/></g>
<g id="x73"><circle class="n d" cx="186" cy="390" r="1.7"/></g>
<g id="x74"><circle class="n y" cx="222" cy="382" r="1.7"/></g>
<g id="x75"><circle class="n k" cx="256" cy="388" r="1.7"/></g>
<g id="x76"><circle class="n o" cx="448" cy="392" r="1.7"/></g>
<g id="x77"><circle class="n d" cx="492" cy="380" r="1.7"/></g>
<g id="x78"><circle class="n k" cx="525" cy="390" r="1.7"/></g>
<g id="x79"><circle class="n o" cx="102" cy="418" r="1.7"/></g>
<g id="x80"><circle class="n d" cx="140" cy="424" r="1.7"/></g>
<g id="x81"><circle class="n y" cx="176" cy="416" r="1.7"/></g>
<g id="x82"><circle class="n k" cx="215" cy="424" r="1.7"/></g>
<g id="x83"><circle class="n o" cx="250" cy="415" r="1.7"/></g>
<g id="x84"><circle class="n d" cx="300" cy="425" r="1.7"/></g>
<g id="x85"><circle class="n g" cx="380" cy="425" r="1.7"/></g>
<g id="x86"><circle class="n o" cx="415" cy="418" r="1.7"/></g>
<g id="x87"><circle class="n k" cx="462" cy="415" r="1.7"/></g>
<g id="x88"><circle class="n d" cx="512" cy="422" r="1.7"/></g>
<g id="x89"><circle class="n y" cx="126" cy="458" r="1.7"/></g>
<g id="x90"><circle class="n o" cx="162" cy="452" r="1.7"/></g>
<g id="x91"><circle class="n k" cx="200" cy="460" r="1.7"/></g>
<g id="x92"><circle class="n d" cx="240" cy="452" r="1.7"/></g>
<g id="x93"><circle class="n o" cx="400" cy="455" r="1.7"/></g>
<g id="x94"><circle class="n y" cx="440" cy="462" r="1.7"/></g>
<g id="x95"><circle class="n d" cx="480" cy="470" r="1.7"/></g>
<g id="x96"><circle class="n k" cx="215" cy="488" r="1.7"/></g>
<g id="x97"><circle class="n o" cx="250" cy="482" r="1.7"/></g>
<g id="x98"><circle class="n d" cx="405" cy="485" r="1.7"/></g>
<g id="x99"><circle class="n y" cx="432" cy="495" r="1.7"/></g>
<g id="x100"><circle class="n k" cx="462" cy="500" r="1.7"/></g>
<g id="x101"><circle class="n o" cx="222" cy="522" r="1.7"/></g>
<g id="x102"><circle class="n d" cx="262" cy="528" r="1.7"/></g>
<g id="x103"><circle class="n k" cx="410" cy="528" r="1.7"/></g>
<g id="q1"><circle class="n o" cx="570" cy="305" r="1.7"/></g>
<g id="q2"><circle class="n k" cx="566" cy="349" r="1.7"/></g>
<g id="q3"><circle class="n d" cx="535" cy="432" r="1.7"/></g>
<g id="q4"><circle class="n y" cx="509" cy="469" r="1.7"/></g>
<g id="q5"><circle class="n o" cx="477" cy="500" r="1.7"/></g>
<g id="q6"><circle class="n k" cx="440" cy="525" r="1.7"/></g>
<g id="q7"><circle class="n d" cx="264" cy="556" r="1.7"/></g>
<g id="q8"><circle class="n o" cx="219" cy="543" r="1.7"/></g>
<g id="q9"><circle class="n y" cx="178" cy="525" r="1.7"/></g>
<g id="q10"><circle class="n k" cx="141" cy="500" r="1.7"/></g>
<g id="q11"><circle class="n d" cx="109" cy="469" r="1.7"/></g>
<g id="q12"><circle class="n o" cx="83" cy="432" r="1.7"/></g>
<g id="q13"><circle class="n k" cx="64" cy="392" r="1.7"/></g>
<g id="q14"><circle class="n d" cx="52" cy="349" r="1.7"/></g>
<g id="q15"><circle class="n y" cx="48" cy="305" r="1.7"/></g>
<g id="q16"><circle class="n o" cx="64" cy="218" r="1.7"/></g>
<g id="q17"><circle class="n k" cx="83" cy="178" r="1.7"/></g>
<g id="q18"><circle class="n d" cx="109" cy="141" r="1.7"/></g>
<g id="q19"><circle class="n o" cx="141" cy="110" r="1.7"/></g>
<g id="q20"><circle class="n y" cx="178" cy="85" r="1.7"/></g>
<g id="q21"><circle class="n k" cx="309" cy="51" r="1.7"/></g>
<g id="q22"><circle class="n d" cx="399" cy="67" r="1.7"/></g>
<g id="q23"><circle class="n o" cx="509" cy="141" r="1.7"/></g>
<g id="q24"><circle class="n k" cx="566" cy="261" r="1.7"/></g>
</g>
<g id="small2">
<g id="u1"><circle class="n k" cx="345" cy="122" r="1.7"/></g>
<g id="u2"><circle class="n d" cx="380" cy="120" r="1.7"/></g>
<g id="u3"><circle class="n o" cx="415" cy="130" r="1.7"/></g>
<g id="u4"><circle class="n y" cx="455" cy="150" r="1.7"/></g>
<g id="u5"><circle class="n d" cx="270" cy="160" r="1.7"/></g>
<g id="u6"><circle class="n p" cx="390" cy="160" r="1.7"/></g>
<g id="u7"><circle class="n k" cx="495" cy="190" r="1.7"/></g>
<g id="u8"><circle class="n o" cx="245" cy="195" r="1.7"/></g>
<g id="u9"><circle class="n d" cx="395" cy="195" r="1.7"/></g>
<g id="u10"><circle class="n y" cx="420" cy="200" r="1.7"/></g>
<g id="u11"><circle class="n k" cx="95" cy="232" r="1.7"/></g>
<g id="u12"><circle class="n d" cx="210" cy="232" r="1.7"/></g>
<g id="u13"><circle class="n o" cx="315" cy="232" r="1.7"/></g>
<g id="u14"><circle class="n g" cx="345" cy="228" r="1.7"/></g>
<g id="u15"><circle class="n d" cx="420" cy="232" r="1.7"/></g>
<g id="u16"><circle class="n o" cx="490" cy="228" r="1.7"/></g>
<g id="u17"><circle class="n y" cx="535" cy="262" r="1.7"/></g>
<g id="u18"><circle class="n d" cx="125" cy="265" r="1.7"/></g>
<g id="u19"><circle class="n k" cx="160" cy="265" r="1.7"/></g>
<g id="u20"><circle class="n o" cx="200" cy="262" r="1.7"/></g>
<g id="u21"><circle class="n d" cx="270" cy="262" r="1.7"/></g>
<g id="u22"><circle class="n y" cx="310" cy="262" r="1.7"/></g>
<g id="u23"><circle class="n k" cx="345" cy="262" r="1.7"/></g>
<g id="u24"><circle class="n o" cx="460" cy="262" r="1.7"/></g>
<g id="u25"><circle class="n d" cx="495" cy="262" r="1.7"/></g>
<g id="u26"><circle class="n p" cx="545" cy="275" r="1.7"/></g>
<g id="u27"><circle class="n o" cx="95" cy="300" r="1.7"/></g>
<g id="u28"><circle class="n d" cx="130" cy="298" r="1.7"/></g>
<g id="u29"><circle class="n y" cx="165" cy="300" r="1.7"/></g>
<g id="u30"><circle class="n k" cx="195" cy="300" r="1.7"/></g>
<g id="u31"><circle class="n d" cx="305" cy="295" r="1.7"/></g>
<g id="u32"><circle class="n o" cx="335" cy="300" r="1.7"/></g>
<g id="u33"><circle class="n k" cx="455" cy="298" r="1.7"/></g>
<g id="u34"><circle class="n d" cx="490" cy="300" r="1.7"/></g>
<g id="u35"><circle class="n o" cx="530" cy="300" r="1.7"/></g>
<g id="u36"><circle class="n y" cx="100" cy="330" r="1.7"/></g>
<g id="u37"><circle class="n d" cx="175" cy="335" r="1.7"/></g>
<g id="u38"><circle class="n o" cx="215" cy="332" r="1.7"/></g>
<g id="u39"><circle class="n k" cx="260" cy="335" r="1.7"/></g>
<g id="u40"><circle class="n d" cx="295" cy="335" r="1.7"/></g>
<g id="u41"><circle class="n y" cx="450" cy="335" r="1.7"/></g>
<g id="u42"><circle class="n o" cx="485" cy="335" r="1.7"/></g>
<g id="u43"><circle class="n d" cx="520" cy="335" r="1.7"/></g>
<g id="u44"><circle class="n k" cx="150" cy="362" r="1.7"/></g>
<g id="u45"><circle class="n o" cx="180" cy="368" r="1.7"/></g>
<g id="u46"><circle class="n d" cx="245" cy="368" r="1.7"/></g>
<g id="u47"><circle class="n y" cx="275" cy="372" r="1.7"/></g>
<g id="u48"><circle class="n d" cx="420" cy="372" r="1.7"/></g>
<g id="u49"><circle class="n k" cx="470" cy="365" r="1.7"/></g>
<g id="u50"><circle class="n o" cx="515" cy="370" r="1.7"/></g>
<g id="u51"><circle class="n d" cx="545" cy="370" r="1.7"/></g>
<g id="u52"><circle class="n y" cx="140" cy="402" r="1.7"/></g>
<g id="u53"><circle class="n o" cx="205" cy="400" r="1.7"/></g>
<g id="u54"><circle class="n d" cx="240" cy="400" r="1.7"/></g>
<g id="u55"><circle class="n k" cx="285" cy="405" r="1.7"/></g>
<g id="u57"><circle class="n o" cx="475" cy="400" r="1.7"/></g>
<g id="u58"><circle class="n d" cx="505" cy="405" r="1.7"/></g>
<g id="u59"><circle class="n y" cx="540" cy="420" r="1.7"/></g>
<g id="u60"><circle class="n d" cx="150" cy="440" r="1.7"/></g>
<g id="u61"><circle class="n o" cx="190" cy="440" r="1.7"/></g>
<g id="u62"><circle class="n k" cx="225" cy="442" r="1.7"/></g>
<g id="u63"><circle class="n d" cx="395" cy="438" r="1.7"/></g>
<g id="u64"><circle class="n o" cx="510" cy="445" r="1.7"/></g>
<g id="u66"><circle class="n y" cx="140" cy="475" r="1.7"/></g>
<g id="u67"><circle class="n d" cx="230" cy="470" r="1.7"/></g>
<g id="u68"><circle class="n k" cx="395" cy="470" r="1.7"/></g>
<g id="u71"><circle class="n o" cx="245" cy="505" r="1.7"/></g>
</g>
<g id="medium">
<g id="m1"><circle class="N b" cx="164" cy="113" r="5"/></g>
<g id="m2"><circle class="N y" cx="173" cy="103" r="4"/></g>
<g id="m3"><circle class="N k" cx="187" cy="192" r="5"/></g>
<g id="m4"><circle class="N g" cx="115" cy="152" r="4"/></g>
<g id="m5"><circle class="N b" cx="108" cy="181" r="4"/></g>
<g id="m6"><circle class="N g" cx="424" cy="171" r="6"/></g>
<g id="m7"><circle class="N g" cx="445" cy="175" r="3"/></g>
<g id="m8"><circle class="N y" cx="468" cy="200" r="6"/></g>
<g id="m9"><circle class="N v" cx="393" cy="222" r="4"/></g>
<g id="m10"><circle class="N v" cx="403" cy="247" r="5"/></g>
<g id="m11"><circle class="N o" cx="350" cy="204" r="6"/></g>
<g id="m12"><circle class="N a" cx="438" cy="87" r="5"/></g>
<g id="m13"><circle class="N p" cx="508" cy="131" r="5"/></g>
<g id="m14"><circle class="N p" cx="532" cy="139" r="3"/></g>
<g id="m15"><circle class="N k" cx="541" cy="167" r="5"/></g>
<g id="m16"><circle class="N y" cx="362" cy="52" r="4"/></g>
<g id="m17"><circle class="N k" cx="382" cy="59" r="6"/></g>
<g id="m18"><circle class="N b" cx="388" cy="74" r="3"/></g>
<g id="m19"><circle class="N o" cx="336" cy="34" r="3"/></g>
<g id="m20"><circle class="N a" cx="446" cy="66" r="3"/></g>
<g id="m21"><circle class="N a" cx="469" cy="76" r="3"/></g>
<g id="m22"><circle class="N g" cx="538" cy="110" r="3"/></g>
<g id="m23"><circle class="N b" cx="217" cy="283" r="6"/></g>
<g id="m24"><circle class="N g" cx="239" cy="298" r="4"/></g>
<g id="m25"><circle class="N y" cx="578" cy="267" r="6"/></g>
<g id="m26"><circle class="N v" cx="577" cy="288" r="6"/></g>
<g id="m27"><circle class="N k" cx="557" cy="317" r="7"/></g>
<g id="m28"><circle class="N o" cx="581" cy="318" r="5"/></g>
<g id="m29"><circle class="N b" cx="572" cy="331" r="4"/></g>
<g id="m30"><circle class="N y" cx="568" cy="387" r="4"/></g>
<g id="m31"><circle class="N p" cx="550" cy="398" r="4"/></g>
<g id="m32"><circle class="N k" cx="571" cy="405" r="4"/></g>
<g id="m33"><circle class="N b" cx="454" cy="432" r="5"/></g>
<g id="m34"><circle class="N a" cx="468" cy="439" r="4"/></g>
<g id="m35"><circle class="N o" cx="487" cy="449" r="7"/></g>
<g id="m36"><circle class="N b" cx="452" cy="478" r="4"/></g>
<g id="m37"><circle class="N p" cx="529" cy="476" r="4"/></g>
<g id="m38"><circle class="N p" cx="579" cy="443" r="4"/></g>
<g id="m39"><circle class="N b" cx="424" cy="513" r="4"/></g>
<g id="m40"><circle class="N o" cx="436" cy="547" r="4"/></g>
<g id="m41"><circle class="N p" cx="386" cy="403" r="4"/></g>
<g id="m42"><circle class="N p" cx="430" cy="388" r="4"/></g>
<g id="m43"><circle class="N o" cx="281" cy="319" r="3"/></g>
<g id="m44"><circle class="N o" cx="268" cy="438" r="5"/></g>
<g id="m45"><circle class="N p" cx="233" cy="535" r="6"/></g>
<g id="m46"><circle class="N o" cx="188" cy="503" r="4"/></g>
<g id="m47"><circle class="N g" cx="122" cy="393" r="5"/></g>
<g id="m48"><circle class="N y" cx="106" cy="398" r="3"/></g>
<g id="m49"><circle class="N a" cx="99" cy="402" r="3"/></g>
<g id="m50"><circle class="N k" cx="112" cy="432" r="4"/></g>
<g id="m51"><circle class="N p" cx="86" cy="290" r="3"/></g>
<g id="m52"><circle class="N a" cx="78" cy="315" r="3"/></g>
<g id="m53"><circle class="N b" cx="59" cy="259" r="3"/></g>
<g id="m54"><circle class="N o" cx="304" cy="137" r="3"/></g>
<g id="m55"><circle class="N g" cx="275" cy="218" r="3"/></g>
<g id="m56"><circle class="N v" cx="292" cy="179" r="3"/></g>
<g id="m57"><circle class="N v" cx="563" cy="185" r="3"/></g>
<g id="m58"><circle class="N b" cx="567" cy="161" r="3"/></g>
<g id="m59"><circle class="N y" cx="225" cy="347" r="3"/></g>
<g id="m61"><circle class="N g" cx="283" cy="52" r="4"/></g>
</g>
<g id="emoniepperson"><circle class="N k" cx="138" cy="167" r="14"/><text class="t" x="137" y="175">emoniepperson</text></g>
<g id="BirgitFujer"><circle class="N a" cx="151" cy="214" r="12"/><text class="t" x="151" y="220">BirgitFujer</text></g>
<g id="Anna_Soubry"><circle class="N a" cx="332" cy="187" r="7"/><text class="t" x="329" y="193">Anna_Soubry</text></g>
<g id="Podolvak_M"><circle class="N k" cx="459" cy="97" r="9"/><text class="t" x="460" y="108">Podolvak_M</text></g>
<g id="CREducATE"><circle class="N o" cx="545" cy="207" r="22"/><text class="t" x="543" y="212">CREducATE</text></g>
<g id="drcsheddon"><text class="t" x="547" y="222">drcsheddon</text></g>
<g id="chatts_k"><circle class="N b" cx="402" cy="305" r="8"/><text class="t" x="401" y="313">chatts_k</text></g>
<g id="CHATZISTELIOS"><circle class="N o" cx="355" cy="373" r="12"/><text class="t" x="354" y="382">CHATZISTELIOS</text></g>
<g id="ChrisMurphyCT"><circle class="N p" cx="85" cy="338" r="6"/><text class="t" x="85" y="345">ChrisMurphyCT</text></g>
<g id="simon_ekpa"><circle class="N v" cx="99" cy="367" r="8"/><text class="t" x="97" y="375">simon_ekpa</text></g>
<g id="ManobalaV"><circle class="N p" cx="172" cy="500" r="6"/><text class="t" x="171" y="511">ManobalaV</text></g>
<g id="thehill"><circle class="N v" cx="383" cy="550" r="7"/><text class="t" x="383" y="560">thehill</text></g>
<g id="btsretweetsTS50"><circle class="N k" cx="237" cy="63" r="5"/><text class="t" x="237" y="75">btsretweetsTS50</text></g>
</svg>
